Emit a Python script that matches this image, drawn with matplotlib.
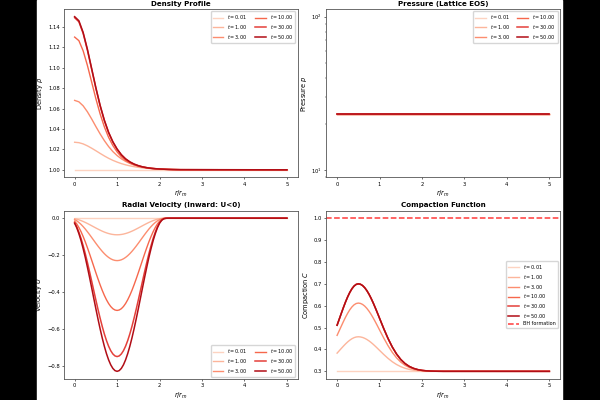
import matplotlib
matplotlib.use("Agg")
import matplotlib.pyplot as plt
import numpy as np

times = [0.01, 1.0, 3.0, 10.0, 30.0, 50.0]

# ---- density profile, r/r_m = 0, 0.1, ..., 2.5, 5
r_rho = [0.0, 0.1, 0.2, 0.3, 0.4, 0.5, 0.6, 0.7, 0.8, 0.9, 1.0, 1.1, 1.2, 1.3,
         1.4, 1.5, 1.6, 1.7, 1.8, 1.9, 2.0, 2.1, 2.2, 2.3, 2.4, 2.5, 5.0]
rho_t001 = [1.0] * 27
rho_t1 = [1.0270, 1.0266, 1.0254, 1.0235, 1.0212, 1.0187, 1.0161, 1.0136, 1.0113,
          1.0093, 1.0076, 1.0061, 1.0049, 1.0039, 1.0031, 1.0024, 1.0019, 1.0015,
          1.0012, 1.0009, 1.0007, 1.0006, 1.0004, 1.0003, 1.0003, 1.0002, 1.0]
rho_t3 = [1.0680, 1.0666, 1.0627, 1.0569, 1.0499, 1.0424, 1.0352, 1.0286, 1.0228,
          1.0179, 1.0140, 1.0108, 1.0083, 1.0063, 1.0048, 1.0036, 1.0028, 1.0021,
          1.0016, 1.0012, 1.0009, 1.0007, 1.0005, 1.0004, 1.0003, 1.0002, 1.0]
rho_t10 = [1.1300, 1.1265, 1.1166, 1.1024, 1.0861, 1.0697, 1.0548, 1.0421, 1.0318,
           1.0238, 1.0176, 1.0128, 1.0093, 1.0067, 1.0049, 1.0035, 1.0025, 1.0018,
           1.0013, 1.0009, 1.0007, 1.0005, 1.0004, 1.0002, 1.0002, 1.0001, 1.0]
rho_t30 = [1.1490, 1.1450, 1.1337, 1.1174, 1.0987, 1.0799, 1.0628, 1.0482, 1.0364,
           1.0273, 1.0202, 1.0147, 1.0107, 1.0077, 1.0056, 1.0040, 1.0029, 1.0021,
           1.0015, 1.0011, 1.0008, 1.0006, 1.0004, 1.0003, 1.0002, 1.0001, 1.0]
rho_t50 = [1.1500, 1.1460, 1.1346, 1.1182, 1.0994, 1.0805, 1.0632, 1.0486, 1.0367,
           1.0275, 1.0204, 1.0148, 1.0107, 1.0078, 1.0056, 1.0041, 1.0029, 1.0021,
           1.0015, 1.0011, 1.0008, 1.0006, 1.0004, 1.0003, 1.0002, 1.0002, 1.0]

# ---- pressure (lattice EOS), flat for every t
r_p = [0.0, 5.0]
p_value = 23.1

# ---- radial velocity, r/r_m = 0, 0.05, ..., 2.2, 5
r_u = [0.0, 0.05, 0.1, 0.15, 0.2, 0.25, 0.3, 0.35, 0.4, 0.45, 0.5, 0.55, 0.6,
       0.65, 0.7, 0.75, 0.8, 0.85, 0.9, 0.95, 1.0, 1.05, 1.1, 1.15, 1.2, 1.25,
       1.3, 1.35, 1.4, 1.45, 1.5, 1.55, 1.6, 1.65, 1.7, 1.75, 1.8, 1.85, 1.9,
       1.95, 2.0, 2.05, 2.1, 2.15, 2.2, 5.0]
u_t001 = [0.0] * 46
u_t1 = [-0.0030, -0.0056, -0.0091, -0.0131, -0.0178, -0.0230, -0.0287, -0.0346,
        -0.0408, -0.0470, -0.0532, -0.0592, -0.0650, -0.0704, -0.0753, -0.0796,
        -0.0832, -0.0862, -0.0883, -0.0896, -0.0900, -0.0896, -0.0883, -0.0862,
        -0.0832, -0.0796, -0.0753, -0.0704, -0.0650, -0.0592, -0.0532, -0.0470,
        -0.0408, -0.0346, -0.0287, -0.0230, -0.0178, -0.0131, -0.0091, -0.0056,
        -0.0030, -0.0012, -0.0003, -0.0001, 0.0, 0.0]
u_t3 = [-0.0076, -0.0144, -0.0232, -0.0335, -0.0456, -0.0587, -0.0733, -0.0884,
        -0.1042, -0.1201, -0.1360, -0.1514, -0.1661, -0.1799, -0.1924, -0.2034,
        -0.2127, -0.2202, -0.2256, -0.2289, -0.2300, -0.2289, -0.2256, -0.2202,
        -0.2127, -0.2034, -0.1924, -0.1799, -0.1661, -0.1514, -0.1360, -0.1201,
        -0.1042, -0.0884, -0.0733, -0.0587, -0.0456, -0.0335, -0.0232, -0.0144,
        -0.0076, -0.0032, -0.0008, -0.0002, 0.0, 0.0]
u_t10 = [-0.0166, -0.0313, -0.0504, -0.0728, -0.0991, -0.1277, -0.1593, -0.1923,
         -0.2265, -0.2611, -0.2956, -0.3291, -0.3611, -0.3911, -0.4183, -0.4422,
         -0.4625, -0.4787, -0.4905, -0.4976, -0.5000, -0.4976, -0.4905, -0.4787,
         -0.4625, -0.4422, -0.4183, -0.3911, -0.3611, -0.3291, -0.2956, -0.2611,
         -0.2265, -0.1923, -0.1593, -0.1277, -0.0991, -0.0728, -0.0504, -0.0313,
         -0.0166, -0.0070, -0.0018, -0.0004, 0.0, 0.0]
u_t30 = [-0.0249, -0.0469, -0.0756, -0.1091, -0.1486, -0.1916, -0.2389, -0.2884,
         -0.3397, -0.3917, -0.4433, -0.4937, -0.5417, -0.5866, -0.6274, -0.6633,
         -0.6937, -0.7180, -0.7357, -0.7464, -0.7500, -0.7464, -0.7357, -0.7180,
         -0.6937, -0.6633, -0.6274, -0.5866, -0.5417, -0.4937, -0.4433, -0.3917,
         -0.3397, -0.2884, -0.2389, -0.1916, -0.1486, -0.1091, -0.0756, -0.0469,
         -0.0249, -0.0105, -0.0028, -0.0006, 0.0, 0.0]
u_t50 = [-0.0276, -0.0519, -0.0837, -0.1208, -0.1644, -0.2120, -0.2644, -0.3191,
         -0.3759, -0.4334, -0.4906, -0.5463, -0.5994, -0.6491, -0.6943, -0.7341,
         -0.7677, -0.7946, -0.8141, -0.8260, -0.8300, -0.8260, -0.8141, -0.7946,
         -0.7677, -0.7341, -0.6943, -0.6491, -0.5994, -0.5463, -0.4906, -0.4334,
         -0.3759, -0.3191, -0.2644, -0.2120, -0.1644, -0.1208, -0.0837, -0.0519,
         -0.0276, -0.0116, -0.0031, -0.0007, 0.0, 0.0]

# ---- compaction function, r/r_m = 0..1 by 0.05, 1.1..2.5 by 0.1, 5
r_c = [0.0, 0.05, 0.1, 0.15, 0.2, 0.25, 0.3, 0.35, 0.4, 0.45, 0.5, 0.55, 0.6,
       0.65, 0.7, 0.75, 0.8, 0.85, 0.9, 0.95, 1.0, 1.1, 1.2, 1.3, 1.4, 1.5, 1.6,
       1.7, 1.8, 1.9, 2.0, 2.1, 2.2, 2.3, 2.4, 2.5, 5.0]
c_t001 = [0.3] * 37
c_t1 = [0.3832, 0.3940, 0.4048, 0.4154, 0.4255, 0.4346, 0.4426, 0.4491, 0.4540,
        0.4570, 0.4580, 0.4572, 0.4549, 0.4510, 0.4458, 0.4394, 0.4320, 0.4237,
        0.4147, 0.4054, 0.3958, 0.3769, 0.3593, 0.3439, 0.3313, 0.3214, 0.3140,
        0.3089, 0.3054, 0.3031, 0.3018, 0.3009, 0.3005, 0.3002, 0.3001, 0.3000,
        0.3]
c_t3 = [0.4644, 0.4856, 0.5070, 0.5279, 0.5477, 0.5658, 0.5816, 0.5945, 0.6041,
        0.6100, 0.6120, 0.6104, 0.6058, 0.5983, 0.5880, 0.5753, 0.5606, 0.5442,
        0.5265, 0.5081, 0.4892, 0.4519, 0.4171, 0.3867, 0.3617, 0.3422, 0.3277,
        0.3175, 0.3106, 0.3062, 0.3035, 0.3019, 0.3010, 0.3005, 0.3002, 0.3001,
        0.3]
c_t50 = [0.5107, 0.5380, 0.5654, 0.5922, 0.6176, 0.6408, 0.6610, 0.6776, 0.6899,
         0.6974, 0.7000, 0.6980, 0.6921, 0.6824, 0.6692, 0.6530, 0.6341, 0.6131,
         0.5904, 0.5668, 0.5426, 0.4947, 0.4501, 0.4112, 0.3792, 0.3541, 0.3356,
         0.3224, 0.3136, 0.3079, 0.3044, 0.3024, 0.3012, 0.3006, 0.3003, 0.3001,
         0.3]
# t = 10 and t = 30 lie on top of t = 50 in the chart
c_t10 = c_t50
c_t30 = c_t50
c_bh = 1.0

colors = ["#fdd3c1", "#fcb59b", "#fc8d6f", "#f6674c", "#e4403a", "#b10d16"]
widths = [1.0, 1.0, 1.0, 1.0, 1.1, 1.1]

rho_all = [rho_t001, rho_t1, rho_t3, rho_t10, rho_t30, rho_t50]
u_all = [u_t001, u_t1, u_t3, u_t10, u_t30, u_t50]
c_all = [c_t001, c_t1, c_t3, c_t10, c_t30, c_t50]

fs_tick = 3.8
fs_label = 4.8
fs_title = 5.1
fs_leg = 3.5

fig = plt.figure(figsize=(6, 4), dpi=100)
fig.patch.set_facecolor("black")
fig.add_artist(plt.Rectangle((37 / 600, 0), 525 / 600, 1, transform=fig.transFigure,
                             color="white", zorder=-5))
axs = fig.subplots(2, 2)
fig.subplots_adjust(left=0.1067, right=0.9333, top=0.9775, bottom=0.0525,
                    wspace=0.124, hspace=0.196)


def style(ax, title, ylabel):
    ax.set_title(title, fontsize=fs_title, fontweight="bold", pad=2.5)
    ax.set_xlabel("$r/r_m$", fontsize=fs_label, labelpad=1.5)
    ax.set_ylabel(ylabel, fontsize=fs_label, labelpad=2)
    ax.tick_params(labelsize=fs_tick, length=1.6, width=0.4, pad=1.5)
    ax.tick_params(which="minor", length=0.9, width=0.3)
    for s in ax.spines.values():
        s.set_linewidth(0.6)
        s.set_color("#555555")
    ax.set_xticks([0, 1, 2, 3, 4, 5])


leg_kw = dict(fontsize=fs_leg, handlelength=2.2, borderpad=0.4, labelspacing=0.35)

ax = axs[0, 0]
for t, y, c, w in zip(times, rho_all, colors, widths):
    ax.plot(r_rho, y, color=c, lw=w, label=f"$t = {t:.2f}$")
style(ax, "Density Profile", r"Density $\rho$")
ax.legend(loc="upper right", ncol=2, columnspacing=1.5, **leg_kw)

ax = axs[0, 1]
for t, c, w in zip(times, colors, widths):
    ax.plot(r_p, [p_value] * len(r_p), color=c, lw=w, label=f"$t = {t:.2f}$")
ax.set_yscale("log")
style(ax, "Pressure (Lattice EOS)", r"Pressure $p$")
ax.legend(loc="upper right", ncol=2, columnspacing=1.5, **leg_kw)

ax = axs[1, 0]
for t, y, c, w in zip(times, u_all, colors, widths):
    ax.plot(r_u, y, color=c, lw=w, label=f"$t = {t:.2f}$")
style(ax, "Radial Velocity (Inward: U<0)", r"Velocity $U$")
ax.legend(loc="lower right", ncol=2, columnspacing=1.5, **leg_kw)

ax = axs[1, 1]
for t, y, c, w in zip(times, c_all, colors, widths):
    ax.plot(r_c, y, color=c, lw=w, label=f"$t = {t:.2f}$")
ax.axhline(c_bh, color="#ff3b3b", ls="--", lw=1.1, label="BH formation")
style(ax, "Compaction Function", r"Compaction $C$")
ax.legend(loc="center right", **leg_kw)

fig.savefig("out.png", dpi=100, facecolor=fig.get_facecolor())
